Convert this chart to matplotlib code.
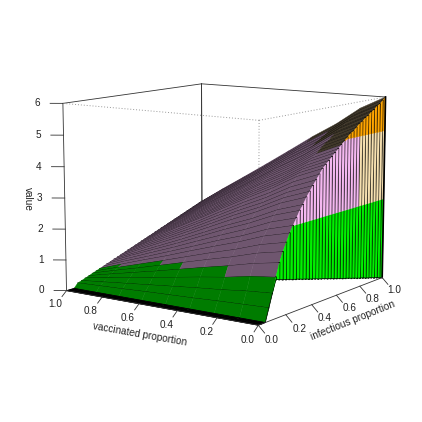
import matplotlib
matplotlib.use("Agg")
import matplotlib.pyplot as plt
import numpy as np
from mpl_toolkits.mplot3d import proj3d
from mpl_toolkits.mplot3d.art3d import Poly3DCollection

plt.rcParams['font.family'] = ['Liberation Sans', 'DejaVu Sans']

# vaccinated proportion of each column of the table
vaccinated = [0.0, 0.125, 0.25, 0.375, 0.5, 0.625, 0.75, 0.875, 1.0]

# infectious proportion of each row of the table
infectious = [0.0, 0.025, 0.05, 0.075, 0.1, 0.125, 0.15, 0.175, 0.2, 0.225,
              0.25, 0.275, 0.3, 0.325, 0.35, 0.375, 0.4, 0.425, 0.45, 0.475,
              0.5, 0.525, 0.55, 0.575, 0.6, 0.625, 0.65, 0.675, 0.7, 0.725,
              0.75, 0.775, 0.8, 0.825, 0.85, 0.875, 0.9, 0.925, 0.95, 0.975, 1.0]

# value, one row per infectious proportion
value = [
    [0, 0, 0, 0, 0, 0, 0, 0, 0],
    [0, 0, 0, 0, 0, 0, 0, 0, 0],
    [0, 0, 0, 0, 0, 0, 0, 0, 0],
    [0.40, 0.37, 0.34, 0.30, 0.27, 0.24, 0.20, 0.17, 0.14],
    [0.80, 0.74, 0.65, 0.58, 0.50, 0.42, 0.34, 0.26, 0.18],
    [1.25, 1.15, 1.00, 0.88, 0.75, 0.61, 0.49, 0.36, 0.23],
    [1.65, 1.51, 1.32, 1.15, 0.97, 0.79, 0.62, 0.45, 0.27],
    [1.95, 1.79, 1.56, 1.36, 1.15, 0.94, 0.73, 0.53, 0.32],
    [2.20, 2.02, 1.76, 1.54, 1.30, 1.06, 0.83, 0.60, 0.36],
    [2.45, 2.25, 1.96, 1.71, 1.45, 1.18, 0.93, 0.67, 0.41],
    [2.65, 2.43, 2.12, 1.86, 1.57, 1.29, 1.01, 0.74, 0.45],
    [2.85, 2.62, 2.29, 2.00, 1.70, 1.39, 1.10, 0.80, 0.50],
    [3.05, 2.80, 2.45, 2.15, 1.82, 1.49, 1.18, 0.87, 0.54],
    [3.20, 2.94, 2.57, 2.26, 1.92, 1.58, 1.25, 0.92, 0.59],
    [3.40, 3.12, 2.74, 2.40, 2.04, 1.68, 1.34, 0.99, 0.63],
    [3.55, 3.26, 2.86, 2.52, 2.14, 1.77, 1.41, 1.05, 0.68],
    [3.70, 3.40, 2.98, 2.63, 2.24, 1.85, 1.48, 1.11, 0.72],
    [3.85, 3.54, 3.11, 2.74, 2.34, 1.94, 1.55, 1.17, 0.77],
    [4.00, 3.68, 3.23, 2.85, 2.44, 2.02, 1.62, 1.22, 0.81],
    [4.15, 3.82, 3.36, 2.96, 2.54, 2.11, 1.70, 1.28, 0.86],
    [4.25, 3.92, 3.45, 3.04, 2.61, 2.17, 1.75, 1.34, 0.90],
    [4.35, 4.01, 3.53, 3.12, 2.68, 2.24, 1.81, 1.39, 0.95],
    [4.45, 4.10, 3.62, 3.20, 2.75, 2.30, 1.87, 1.44, 0.99],
    [4.55, 4.20, 3.71, 3.29, 2.83, 2.37, 1.93, 1.49, 1.04],
    [4.65, 4.29, 3.79, 3.36, 2.90, 2.44, 1.99, 1.54, 1.08],
    [4.75, 4.39, 3.88, 3.45, 2.97, 2.50, 2.05, 1.60, 1.13],
    [4.85, 4.48, 3.97, 3.53, 3.05, 2.57, 2.11, 1.65, 1.17],
    [4.95, 4.58, 4.05, 3.61, 3.12, 2.63, 2.17, 1.70, 1.22],
    [5.05, 4.67, 4.14, 3.69, 3.19, 2.70, 2.23, 1.75, 1.26],
    [5.10, 4.72, 4.19, 3.73, 3.24, 2.75, 2.27, 1.80, 1.31],
    [5.20, 4.82, 4.28, 3.81, 3.31, 2.81, 2.33, 1.85, 1.35],
    [5.30, 4.91, 4.36, 3.89, 3.39, 2.88, 2.39, 1.90, 1.40],
    [5.35, 4.96, 4.41, 3.94, 3.43, 2.93, 2.44, 1.95, 1.44],
    [5.45, 5.05, 4.50, 4.02, 3.51, 3.00, 2.50, 2.00, 1.49],
    [5.50, 5.10, 4.55, 4.07, 3.55, 3.04, 2.54, 2.05, 1.53],
    [5.60, 5.20, 4.63, 4.15, 3.63, 3.10, 2.60, 2.10, 1.58],
    [5.65, 5.25, 4.68, 4.20, 3.68, 3.15, 2.65, 2.14, 1.62],
    [5.75, 5.34, 4.77, 4.28, 3.75, 3.22, 2.71, 2.20, 1.67],
    [5.80, 5.39, 4.82, 4.33, 3.80, 3.26, 2.75, 2.24, 1.71],
    [5.90, 5.49, 4.91, 4.41, 3.87, 3.33, 2.81, 2.29, 1.76],
    [6.00, 5.58, 4.99, 4.49, 3.94, 3.40, 2.87, 2.35, 1.80],
]

# value at the very edge (vaccinated = 0), foot of the wall
edge_value = [0, 0, 0, 0.40, 0.80, 1.18, 1.15, 1.11, 1.08, 1.05,
              1.01, 0.98, 0.95, 0.91, 0.88, 0.84, 0.81, 0.78, 0.74, 0.71,
              0.68, 0.64, 0.61, 0.57, 0.54, 0.51, 0.47, 0.44, 0.41, 0.37,
              0.34, 0.30, 0.27, 0.24, 0.20, 0.17, 0.14, 0.10, 0.07, 0.03, 0.0]

# upper end of the green band in each column
green_limit = [1.05, 1.2, 1.2, 1.15, 1.05, 0.9, 0.7, 0.55]

vacc_ticks = [0.0, 0.2, 0.4, 0.6, 0.8, 1.0]
inf_ticks = [0.0, 0.2, 0.4, 0.6, 0.8, 1.0]
val_ticks = [0, 1, 2, 3, 4, 5, 6]

fig = plt.figure(figsize=(4.22, 4.22), dpi=100)
ax = fig.add_axes([0.025, 0.029, 1.0, 1.0], projection='3d')
ax.computed_zorder = False
ax.set_axis_off()
ax.set_xlim(0, 1)
ax.set_ylim(0, 1)
ax.set_zlim(0, 6)
ax.set_box_aspect((1, 1, 0.815), zoom=0.86)
ax.set_proj_type('persp', focal_length=0.65)
ax.view_init(elev=10, azim=-145)
M = ax.get_proj()

TXT = '#222222'
orden = 1


def linea(xs, ys, zs, **kw):
    global orden
    ax.plot(xs, ys, zs, zorder=orden, **kw)
    orden += 1


def rotulo(x, y, z, s, rot=0):
    px, py, _ = proj3d.proj_transform(x, y, z, M)
    ax.text2D(px, py, s, transform=ax.transData, fontsize=7.2, color=TXT, rotation=rot,
              rotation_mode='anchor', ha='center', va='center', zorder=5000)


def color_cuerpo(z, j):
    if z < green_limit[j]:
        return '#007c00'
    if z < 4.6:
        return '#6f566f'
    return '#40382a'


def color_pared(z, inf):
    if z < 2.65:
        return '#00f000'
    if z >= 4.9:
        return '#ffa500'
    return '#f6e0b0' if inf >= 0.8 else '#f4b8f0'


# caja detras de la superficie
for a, b, c in [((0, 1), (1, 1), (0, 0)), ((1, 1), (1, 0), (0, 0)),
                ((0, 0), (1, 1), (0, 6)), ((1, 1), (1, 1), (0, 6)),
                ((1, 1), (1, 1), (6, 0)), ((0, 1), (1, 1), (6, 6)),
                ((1, 1), (1, 0), (6, 6)), ((1, 1), (0, 0), (0, 6))]:
    linea(a, b, c, color='#333333', lw=0.6)
for a, b, c in [((0, 0), (0, 0), (0, 6)), ((0, 0), (0, 1), (6, 6)),
                ((0, 1), (0, 0), (6, 6))]:
    linea(a, b, c, color='#999999', lw=0.7, ls=(0, (1, 2)))

# de atras hacia delante, banda por banda
for k in range(len(infectious) - 2, -1, -1):
    i1, i2 = infectious[k], infectious[k + 1]
    polys, cols = [], []
    for j in range(len(vaccinated) - 2, -1, -1):
        v1, v2 = vaccinated[j], vaccinated[j + 1]
        zq = [value[k][j], value[k][j + 1], value[k + 1][j + 1], value[k + 1][j]]
        polys.append([(i1, v1, zq[0]), (i1, v2, zq[1]), (i2, v2, zq[2]), (i2, v1, zq[3])])
        cols.append('black' if i2 <= 0.05 else color_cuerpo(np.mean(zq), j))
    # pared en el borde, partida en los cambios de color
    for lo, hi in [(0, 2.65), (2.65, 4.9), (4.9, 6.01)]:
        a1, b1 = np.clip([lo, hi], edge_value[k], value[k][0])
        a2, b2 = np.clip([lo, hi], edge_value[k + 1], value[k + 1][0])
        if b1 - a1 + b2 - a2 > 0:
            polys.append([(i1, 0, a1), (i2, 0, a2), (i2, 0, b2), (i1, 0, b1)])
            cols.append(color_pared((lo + hi) / 2, i2))
    col = Poly3DCollection(polys, facecolors=cols, edgecolors=cols, linewidths=0.3, zorder=orden)
    orden += 1
    ax.add_collection3d(col)
    linea([i1, i2], [0, 0], [edge_value[k], edge_value[k + 1]], color='black', lw=0.5)
    linea([i1] * len(vaccinated), vaccinated, value[k], color='black', lw=0.6)
    linea([i1, i1], [0, 0], [edge_value[k], value[k][0]], color='black', lw=1.25)
linea([1, 1], [0, 0], [edge_value[-1], value[-1][0]], color='black', lw=1.25)

# ejes delante
for a, b, c in [((0, 0), (0, 1), (0, 0)), ((0, 1), (0, 0), (0, 0))]:
    linea(a, b, c, color='#333333', lw=0.6)

for v in vacc_ticks:
    linea([0, -0.03], [v, v], [0, -0.15], color='#333333', lw=0.6)
    rotulo(-0.075, v, -0.32, f'{v:.1f}')
for i in inf_ticks:
    linea([i, i], [0, -0.03], [0, -0.2], color='#333333', lw=0.6)
    rotulo(i, -0.065, -0.36, f'{i:.1f}')
for z in val_ticks:
    linea([-0.03, 0], [1.045, 1], [z, z], color='#333333', lw=0.6)
    rotulo(-0.06, 1.09, z, str(z))

rotulo(-0.2, 0.44, -0.45, 'vaccinated proportion', rot=-10)
rotulo(0.5, -0.14, -0.5, 'infectious proportion', rot=22)
rotulo(-0.1, 1.12, 3, 'value', rot=-90)

fig.savefig('out.png', dpi=100)
